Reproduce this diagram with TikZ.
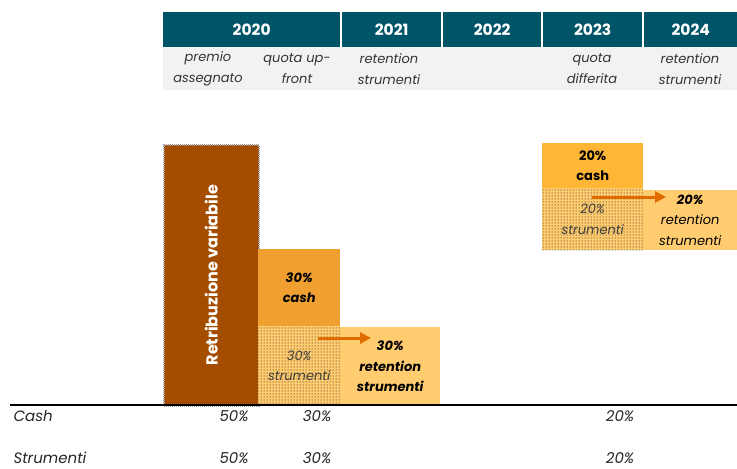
\documentclass[tikz,border=0pt]{standalone}
\usepackage{fontspec}
\setmainfont{Poppins}
\usetikzlibrary{patterns,arrows.meta,positioning}
\definecolor{headteal}{HTML}{005468}
\definecolor{bandgrey}{HTML}{F2F2F2}
\definecolor{varbrown}{HTML}{A44D00}
\definecolor{cashorange}{HTML}{EFA030}
\definecolor{cashyellow}{HTML}{FFB535}
\definecolor{retlight}{HTML}{FFCC70}
\definecolor{arroworange}{HTML}{E06C00}
\tikzset{
  year/.style={fill=headteal,text=white,font=\bfseries\fontsize{15.5}{18}\selectfont,minimum height=35pt,inner sep=0pt,anchor=north west},
  sub/.style={align=center,font=\itshape\fontsize{13}{21}\selectfont,text=black!80},
  block/.style={inner sep=0pt,anchor=north west,align=center,font=\fontsize{13}{20.5}\selectfont},
  dotted box/.style={block,preaction={fill=retlight},pattern=dots,pattern color=black,text=black!75},
  flow/.style={draw=arroworange,line width=3pt,-{Triangle[length=11pt,width=11pt]}},
  row/.style={font=\itshape\fontsize{15}{18}\selectfont,text=black!85}
}
\begin{document}
\begin{tikzpicture}[x=1pt,y=-1pt]
\useasboundingbox (0,0) rectangle (737,469);
\fill[bandgrey] (163,47) rectangle (737,90);
\node[year,minimum width=177pt] (y2020) at (163,12) {2020};
\node[year,minimum width=99pt] (y2021) at (342,12) {2021};
\node[year,minimum width=98pt] (y2022) at (443,12) {2022};
\node[year,minimum width=99pt] (y2023) at (543,12) {2023};
\node[year,minimum width=93pt] (y2024) at (644,12) {2024};
\node[sub] (premio) at (208,69) {premio\\assegnato};
\node[sub] (upfront) at (297,69) {quota up-\\front};
\node[sub] (ret21) at (389,69) {retention\\strumenti};
\node[sub] (differita) at (592,69) {quota\\differita};
\node[sub] (ret24) at (690,69) {retention\\strumenti};
\node[block,fill=varbrown,draw=gray!80,line width=1.5pt,dash pattern=on 1pt off 1pt,minimum width=95pt,minimum height=261pt] (varbar) at (163,144) {};
\node[rotate=90,text=white,font=\bfseries\fontsize{16}{18}\selectfont] at (varbar.center) {Retribuzione variabile};
\node[block,fill=cashorange,minimum width=82pt,minimum height=77pt,font=\bfseries\itshape\fontsize{13}{20.5}\selectfont] (cash30) at (258,249) {30\%\\cash};
\node[block,fill=retlight,minimum width=100pt,minimum height=78pt,font=\bfseries\itshape\fontsize{13}{20.5}\selectfont] (ret30) at (340,327) {30\%\\retention\\strumenti};
\node[dotted box,minimum width=82pt,minimum height=79pt,font=\itshape\fontsize{13}{20.5}\selectfont] (str30) at (258,326) {30\%\\strumenti};
\node[block,fill=cashyellow,minimum width=101pt,minimum height=45pt,font=\bfseries\fontsize{13}{20.5}\selectfont] (cash20) at (542,143) {20\%\\cash};
\node[block,fill=retlight,minimum width=94pt,minimum height=60pt,font=\itshape\fontsize{13}{20.5}\selectfont] (ret20) at (643,190) {\textbf{20\%}\\retention\\strumenti};
\node[dotted box,minimum width=101pt,minimum height=62pt,font=\itshape\fontsize{13}{20.5}\selectfont] (str20) at (542,188) {20\%\\strumenti};
\coordinate (from30) at (318,338);
\coordinate (to30) at (371,338);
\coordinate (from20) at (592,197);
\coordinate (to20) at (666,197);
\draw[flow] (from30) -- (to30);
\draw[flow] (from20) -- (to20);
\draw[line width=2pt] (10,405) -- (737,405);
\node[row,anchor=west] (cash) at (10,416) {Cash};
\node[row] (cash50) at (234,416) {50\%};
\node[row] (cash30p) at (317,416) {30\%};
\node[row] (cash20p) at (620,416) {20\%};
\node[row,anchor=west] (strum) at (10,458) {Strumenti};
\node[row] (strum50) at (234,458) {50\%};
\node[row] (strum30p) at (317,458) {30\%};
\node[row] (strum20p) at (620,458) {20\%};
\end{tikzpicture}
\end{document}
